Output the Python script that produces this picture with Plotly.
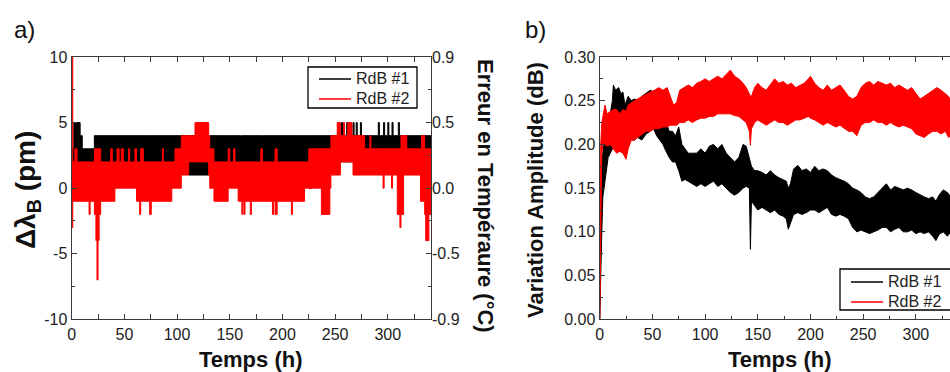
import plotly.graph_objects as go

# ---------------- Panel a) : step bands (pm) ----------------
# RdB #1 (black): segment start time (h), low value, high value (pm)
a1_t  = [0, 2, 8, 10, 21.5, 73, 81, 111, 131, 139, 147, 160, 161, 168, 173, 179, 182, 190, 194,
         210, 215, 225, 228, 256, 257, 261, 262, 267, 268, 270, 271, 274, 275, 291, 292, 296, 297,
         300, 301, 304, 305, 310, 311, 341]
a1_lo = [1, 2, 2, 1, 2, 1, 2, 1, 2, 1, 2, 1, 2, 1, 2, 1, 2, 1, 2,
         1, 2, 0, 2, 2, 2, 2, 2, 2, 2, 2, 2, 2, 2, 2, 2, 2, 2,
         2, 2, 2, 2, 2, 2, 2]
a1_hi = [3, 5, 4, 3, 4, 4, 4, 4, 4, 4, 4, 4, 4, 4, 4, 4, 4, 4, 4,
         4, 4, 4, 4, 5, 4, 5, 4, 5, 4, 5, 4, 5, 4, 5, 4, 5, 4,
         5, 4, 5, 4, 5, 4, 4]

# RdB #2 (red)
a2_t  = [0, 1, 3, 5, 16.5, 17.5, 21.5, 23, 24, 25, 26, 27.5, 37, 38.5, 41, 43, 45, 47, 49, 54, 55,
         60, 61.5, 64.5, 65.5, 68, 74, 75.5, 86, 87, 95, 98, 104, 111, 117, 130, 131, 135, 148.5,
         150, 153.5, 155, 158, 161.5, 162.5, 163.5, 164.5, 169.5, 170.5, 179.5, 181, 190.5, 191.5,
         193, 195, 208.5, 209.5, 221, 225, 237, 245, 246, 252, 255, 258, 259, 262, 266, 267, 278,
         283, 284, 295.5, 296.5, 303.5, 304.5, 309, 311.5, 312.5, 315, 318, 331, 332, 335, 336,
         339, 341]
a2_lo = [-3, -1, -1, -1, -2, -1, -2, -4, -7, -4, -2, -1, -1, -1, 0, 0, 0, 0, 0, 0, 0,
         0, -1, -2, -1, -1, -2, -1, -1, -1, 0, 0, 1, 2, 2, 1, 0, -1, 0,
         0, 0, 0, -1, -2, -1, -2, -1, -2, -1, -1, -1, -2, -1,
         -2, -1, -2, -1, 0, 0, -2, 0, 1, 1, 2, 2, 2, 2, 2, 1, 1,
         1, 1, 0, 1, 0, 1, -2, -3, -2, 1, 1, -1, -1, -2, -4,
         -2, -2]
a2_hi = [10, 2, 3, 2, 2, 2, 3, 3, 3, 3, 3, 2, 3, 2, 2, 3, 2, 3, 2, 3, 2,
         3, 2, 2, 3, 2, 2, 2, 3, 2, 2, 3, 4, 4, 5, 4, 3, 2, 3,
         2, 3, 2, 2, 2, 2, 2, 2, 2, 2, 3, 2, 2, 2,
         3, 2, 2, 2, 2, 3, 3, 3, 4, 5, 4, 5, 4, 5, 4, 4, 3,
         4, 3, 3, 3, 3, 3, 3, 3, 4, 4, 3, 3, 4, 3, 3,
         3, 3]

a_xticks = [0, 50, 100, 150, 200, 250, 300]
a_yticks = [10, 5, 0, -5, -10]
a_ylabels = ["10", "5", "0", "-5", "-10"]
a_y2labels = ["0.9", "0.5", "0.0", "-0.5", "-0.9"]

# ---------------- Panel b) : noisy band envelopes (dB) ----------------
b1_t  = [0, 0.5, 1, 2, 3, 4, 6, 8, 10, 12, 13, 15, 18, 20, 22, 24, 27, 30, 33, 36, 40, 44, 48, 51,
         54, 57, 60, 63, 66, 69, 72, 75, 78, 81, 84, 88, 92, 96, 100, 104, 108, 112, 116, 120, 124,
         128, 132, 136, 139, 142, 143, 144, 147, 150, 154, 158, 162, 166, 170, 174, 177, 179, 181,
         184, 188, 192, 196, 200, 204, 208, 212, 216, 220, 224, 228, 232, 236, 240, 244, 248, 252,
         256, 260, 264, 268, 272, 276, 280, 284, 288, 292, 296, 300, 304, 308, 312, 316, 319, 322,
         326, 330, 333]
b1_lo = [0, 0.03, 0.08, 0.10, 0.14, 0.15, 0.17, 0.185, 0.19, 0.195, 0.195, 0.20, 0.205, 0.20, 0.21,
         0.205, 0.21, 0.205, 0.205, 0.208, 0.205, 0.212, 0.215, 0.218,
         0.21, 0.205, 0.20, 0.192, 0.185, 0.18, 0.18, 0.17, 0.158, 0.16, 0.158, 0.155, 0.152, 0.155,
         0.152, 0.155, 0.158, 0.152, 0.155, 0.15, 0.145,
         0.142, 0.145, 0.15, 0.152, 0.15, 0.08, 0.135, 0.13, 0.125, 0.128, 0.125, 0.122, 0.125, 0.12,
         0.118, 0.115, 0.103, 0.11,
         0.12, 0.122, 0.12, 0.122, 0.125, 0.125, 0.122, 0.125, 0.128, 0.12, 0.118, 0.12, 0.118, 0.115,
         0.105, 0.10, 0.102, 0.10,
         0.098, 0.10, 0.102, 0.105, 0.105, 0.10, 0.103, 0.105, 0.10, 0.10, 0.102, 0.098, 0.10, 0.098,
         0.10, 0.095, 0.09, 0.097,
         0.10, 0.095, 0.10]
b1_hi = [0, 0.10, 0.15, 0.18, 0.19, 0.20, 0.21, 0.22, 0.235, 0.25, 0.268, 0.262, 0.265, 0.258, 0.26,
         0.245, 0.255, 0.25, 0.252, 0.25, 0.255, 0.258, 0.262, 0.26,
         0.228, 0.225, 0.222, 0.225, 0.215, 0.215, 0.21, 0.22, 0.20, 0.195, 0.19, 0.19, 0.19, 0.195,
         0.19, 0.198, 0.20, 0.195, 0.20, 0.19, 0.185,
         0.18, 0.185, 0.20, 0.198, 0.185, 0.18, 0.175, 0.17, 0.17, 0.168, 0.165, 0.17, 0.165, 0.162,
         0.16, 0.158, 0.15, 0.155,
         0.172, 0.176, 0.17, 0.172, 0.168, 0.175, 0.17, 0.172, 0.17, 0.165, 0.162, 0.16, 0.158, 0.155,
         0.15, 0.148, 0.145, 0.14,
         0.138, 0.14, 0.145, 0.15, 0.155, 0.148, 0.152, 0.15, 0.148, 0.15, 0.148, 0.145, 0.142, 0.14,
         0.138, 0.14, 0.135, 0.142,
         0.148, 0.145, 0.14]

b2_t  = [0, 0.5, 1, 2, 3, 5, 7, 10, 13, 16, 19, 22, 25, 27, 30, 33, 36, 40, 44, 48, 52, 56, 60, 64,
         67, 70, 73, 76, 80, 84, 88, 92, 96, 100, 104, 108, 112, 116, 120, 124, 128, 132, 136, 139,
         142, 143, 144, 147, 150, 154, 158, 162, 166, 170, 174, 178, 182, 186, 190, 194, 198, 200,
         204, 208, 212, 216, 220, 224, 228, 232, 236, 240, 244, 248, 252, 256, 260, 264, 268, 272,
         276, 280, 284, 288, 292, 296, 300, 304, 308, 312, 316, 320, 324, 328, 331, 333]
b2_lo = [0, 0.05, 0.15, 0.19, 0.20, 0.20, 0.198, 0.20, 0.195, 0.19, 0.192, 0.19, 0.183, 0.195, 0.205,
         0.205, 0.208, 0.212, 0.215, 0.215, 0.218, 0.218, 0.22, 0.22,
         0.222, 0.222, 0.222, 0.225, 0.225, 0.228, 0.225, 0.228, 0.23, 0.23, 0.232, 0.232, 0.235,
         0.235, 0.235, 0.235, 0.233, 0.232, 0.228, 0.225,
         0.215, 0.199, 0.218, 0.225, 0.228, 0.225, 0.222, 0.225, 0.228, 0.225, 0.225, 0.222, 0.225,
         0.228, 0.228, 0.23, 0.232, 0.23,
         0.228, 0.225, 0.222, 0.225, 0.222, 0.22, 0.222, 0.218, 0.215, 0.215, 0.21, 0.222, 0.225,
         0.225, 0.228, 0.225, 0.225, 0.222,
         0.225, 0.222, 0.22, 0.222, 0.22, 0.218, 0.212, 0.21, 0.208, 0.212, 0.215, 0.215, 0.212,
         0.215, 0.208, 0.21]
b2_hi = [0, 0.15, 0.20, 0.225, 0.232, 0.245, 0.235, 0.238, 0.24, 0.24, 0.235, 0.24, 0.238, 0.245,
         0.248, 0.25, 0.252, 0.255, 0.258, 0.26, 0.262, 0.265, 0.262, 0.265,
         0.255, 0.245, 0.248, 0.262, 0.265, 0.268, 0.265, 0.27, 0.272, 0.275, 0.272, 0.275, 0.278,
         0.275, 0.28, 0.285, 0.278, 0.275, 0.27, 0.265,
         0.258, 0.255, 0.255, 0.265, 0.27, 0.265, 0.262, 0.268, 0.275, 0.27, 0.272, 0.268, 0.27,
         0.265, 0.268, 0.27, 0.275, 0.278,
         0.27, 0.265, 0.262, 0.268, 0.262, 0.265, 0.268, 0.262, 0.255, 0.252, 0.255, 0.265, 0.27,
         0.272, 0.268, 0.272, 0.27, 0.268,
         0.27, 0.265, 0.268, 0.265, 0.262, 0.265, 0.258, 0.252, 0.255, 0.258, 0.262, 0.265, 0.262,
         0.258, 0.255, 0.25]

b_xticks = [0, 50, 100, 150, 200, 250, 300]
b_yticks = [0.0, 0.05, 0.10, 0.15, 0.20, 0.25, 0.30]

series_names = ["RdB #1", "RdB #2"]
BLACK = "#000000"
RED = "#ff0000"
colors = [BLACK, RED]

W, H = 950, 372
def px_x(x):
    return x / W
def px_y(y):
    return 1 - y / H

fig = go.Figure()

def add_band(t, lo, hi, color, name, xa, ya, shape):
    fig.add_trace(go.Scatter(x=t, y=lo, mode="lines", line=dict(color=color, width=1, shape=shape),
                             name=name, showlegend=False, xaxis=xa, yaxis=ya, hoverinfo="skip"))
    fig.add_trace(go.Scatter(x=t, y=hi, mode="lines", line=dict(color=color, width=1, shape=shape),
                             fill="tonexty", fillcolor=color, name=name,
                             showlegend=False, xaxis=xa, yaxis=ya, hoverinfo="skip"))

add_band(a1_t, a1_lo, a1_hi, BLACK, series_names[0], "x", "y", "hv")
add_band(a2_t, a2_lo, a2_hi, RED, series_names[1], "x", "y", "hv")
add_band(b1_t, b1_lo, b1_hi, BLACK, series_names[0], "x2", "y3", "linear")
add_band(b2_t, b2_lo, b2_hi, RED, series_names[1], "x2", "y3", "linear")
# invisible anchor so the right-hand axis of panel a is drawn
fig.add_trace(go.Scatter(x=[0], y=[0], mode="markers", marker=dict(opacity=0), showlegend=False,
                         xaxis="x", yaxis="y2", hoverinfo="skip"))

FONT = "Liberation Sans, Arial, sans-serif"
AX = "#3a3a3a"
tickfont = dict(family=FONT, size=16, color="#222")

y_top, y_bot = 57, 319.3
ydom = [px_y(y_bot), px_y(y_top)]
common = dict(showline=True, linecolor=AX, linewidth=1.3, ticks="inside", ticklen=5, tickcolor=AX,
              tickfont=tickfont, showgrid=False, zeroline=False, automargin=False)

fig.update_layout(
    width=W, height=H, margin=dict(l=0, r=0, t=0, b=0, autoexpand=False),
    paper_bgcolor="white", plot_bgcolor="white", showlegend=False,
    xaxis=dict(domain=[px_x(71.7), px_x(431)], range=[0, 341], anchor="y", tickvals=a_xticks,
               mirror="allticks", minor=dict(ticks="inside", ticklen=3, dtick=25, tickcolor=AX),
               **common),
    yaxis=dict(domain=ydom, range=[-10, 10], anchor="x", tickvals=a_yticks, ticktext=a_ylabels,
               mirror="allticks", minor=dict(ticks="inside", ticklen=3, dtick=2.5, tickcolor=AX),
               **common),
    yaxis2=dict(overlaying="y", side="right", anchor="x", range=[-10, 10], tickvals=a_yticks,
                ticktext=a_y2labels, showline=False, ticks="", tickfont=tickfont, showgrid=False,
                zeroline=False, automargin=False),
    xaxis2=dict(domain=[px_x(599.7), 1.0], range=[0, 332.4], anchor="y3", tickvals=b_xticks,
                mirror="allticks", minor=dict(ticks="inside", ticklen=3, dtick=25, tickcolor=AX),
                **common),
    yaxis3=dict(domain=ydom, range=[0, 0.30], anchor="x2", tickvals=b_yticks, tickformat=".2f",
                mirror=False, minor=dict(ticks="inside", ticklen=3, dtick=0.025, tickcolor=AX),
                **common),
)

def ann(text, x, y, size, angle=0, bold=True, xanchor="center"):
    fig.add_annotation(text=f"<b>{text}</b>" if bold else text, x=px_x(x), y=px_y(y),
                       xref="paper", yref="paper", showarrow=False, textangle=angle,
                       xanchor=xanchor, yanchor="middle",
                       font=dict(family=FONT, size=size, color="#111"))

# compact framed legends (box, sample line, label)
def legend_box(x0, y0, x1, y1, line_x0, line_x1, text_x, rows_y):
    fig.add_shape(type="rect", xref="paper", yref="paper", x0=px_x(x0), x1=px_x(x1),
                  y0=px_y(y1), y1=px_y(y0), line=dict(color="#000", width=1.3), fillcolor="white",
                  layer="above")
    for name, col, ry in zip(series_names, colors, rows_y):
        fig.add_shape(type="line", xref="paper", yref="paper", x0=px_x(line_x0), x1=px_x(line_x1),
                      y0=px_y(ry + 1), y1=px_y(ry + 1), line=dict(color=col, width=1.5), layer="above")
        fig.add_annotation(text=name, x=px_x(text_x), y=px_y(ry), xref="paper", yref="paper",
                           showarrow=False, xanchor="left", yanchor="middle",
                           font=dict(family=FONT, size=16, color="#222"))

legend_box(308, 67, 417, 108, 319, 351, 354, [78, 98])
legend_box(840, 269, 960, 310, 851, 883, 886, [281, 301])

ann("a)", 24, 29, 24, bold=False)
ann("b)", 535, 29, 24, bold=False)
ann("Temps (h)", 251, 359, 22)
ann("Temps (h)", 779, 359, 22)
ann("Δλ<sub>B</sub> (pm)", 27, 190, 28, angle=-90)
ann("Erreur en Tempéraure (°C)", 486, 196, 22, angle=90)
ann("Variation Amplitude (dB)", 535, 190, 22, angle=-90)

fig.write_html("out.html", config={"displayModeBar": False},
               post_script="document.body.style.margin='0px';document.body.style.overflow='hidden';")
